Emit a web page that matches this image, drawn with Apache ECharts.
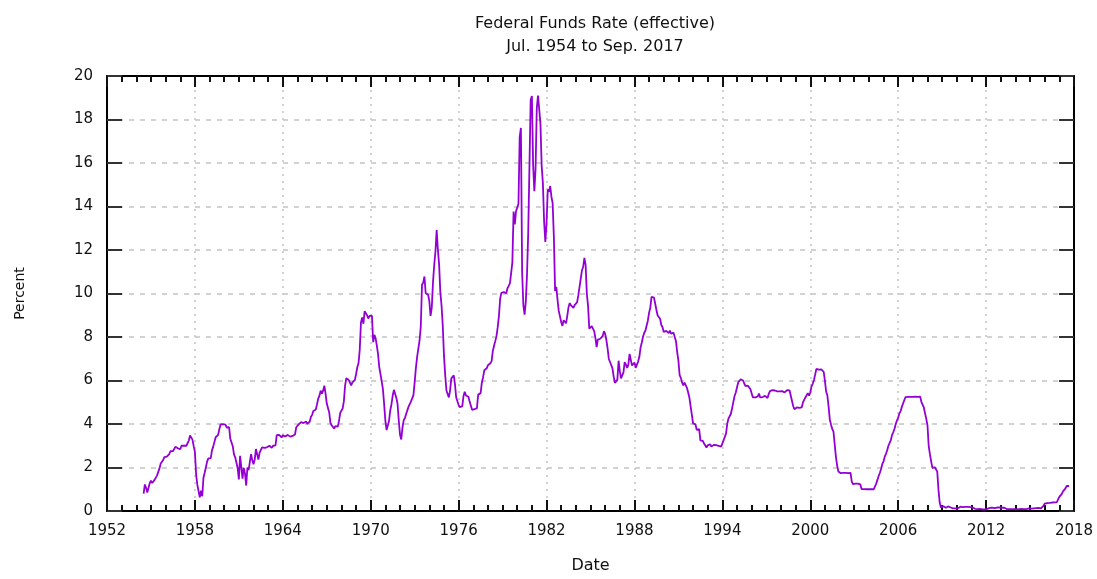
<!DOCTYPE html>
<html>
<head>
<meta charset="utf-8">
<script src="https://cdn.jsdelivr.net/npm/echarts@6/dist/echarts.min.js"></script>
<style>html,body{margin:0;padding:0;background:#fff}#c{width:1097px;height:579px}</style>
</head>
<body>
<div id="c"></div>
<script>
// Effective federal funds rate, monthly, starting Jul 1954 (percent)
const startYear = 1954;
const startMonth = 7;
const rates = [
  0.80, 1.22, 1.07, 0.85, 0.83, 1.28,
  1.39, 1.29, 1.35, 1.43, 1.43, 1.64, 1.68, 1.96, 2.18, 2.24, 2.35, 2.48,
  2.45, 2.50, 2.50, 2.62, 2.75, 2.71, 2.75, 2.73, 2.95, 2.96, 2.88, 2.94,
  2.84, 3.00, 2.96, 3.00, 3.00, 3.00, 2.99, 3.24, 3.47, 3.50, 3.28, 2.98,
  2.72, 1.67, 1.20, 1.26, 0.63, 0.93, 0.68, 1.53, 1.76, 1.80, 2.27, 2.42,
  2.48, 2.43, 2.80, 2.96, 2.90, 3.39, 3.47, 3.50, 3.76, 3.98, 4.00, 3.99,
  3.99, 3.97, 3.84, 3.92, 3.85, 3.32, 3.23, 2.98, 2.60, 2.47, 2.44, 1.98,
  1.45, 2.54, 2.02, 1.49, 1.98, 1.73, 1.17, 2.00, 1.88, 2.26, 2.61, 2.33,
  2.15, 2.37, 2.85, 2.78, 2.36, 2.68, 2.71, 2.93, 2.90, 2.90, 2.94, 2.93,
  2.92, 3.00, 2.98, 2.90, 3.00, 2.99, 3.02, 3.49, 3.48, 3.50, 3.48, 3.38,
  3.48, 3.48, 3.43, 3.47, 3.50, 3.50, 3.42, 3.50, 3.45, 3.36, 3.52, 3.85,
  3.90, 3.98, 4.04, 4.09, 4.10, 4.04, 4.09, 4.12, 4.01, 4.08, 4.10, 4.32,
  4.42, 4.60, 4.65, 4.67, 4.90, 5.17, 5.30, 5.53, 5.40, 5.53, 5.76, 5.40,
  4.94, 5.00, 4.53, 4.05, 3.94, 3.98, 3.79, 3.90, 3.99, 3.88, 4.13, 4.51,
  4.60, 4.71, 5.05, 5.76, 6.11, 6.07, 6.02, 6.03, 5.78, 5.91, 5.82, 6.02,
  6.30, 6.61, 6.79, 7.41, 8.67, 8.90, 8.61, 9.19, 9.15, 9.00, 8.85, 8.97,
  8.98, 8.98, 7.76, 8.10, 7.94, 7.60, 7.21, 6.61, 6.29, 6.20, 5.60, 4.90,
  4.14, 3.72, 3.71, 4.15, 4.63, 4.91, 5.31, 5.57, 5.55, 5.20, 4.91, 4.14,
  3.50, 3.29, 3.83, 4.17, 4.27, 4.46, 4.55, 4.80, 4.87, 5.04, 5.06, 5.33,
  5.94, 6.58, 7.09, 7.12, 7.84, 8.49, 10.40, 10.50, 10.78, 10.01, 10.03, 9.95,
  9.65, 8.97, 9.35, 10.51, 11.31, 11.93, 12.92, 12.01, 11.34, 10.06, 9.45, 8.53,
  7.13, 6.24, 5.54, 5.49, 5.22, 5.55, 6.10, 6.14, 6.24, 5.82, 5.22, 5.20,
  4.87, 4.77, 4.84, 4.82, 5.29, 5.48, 5.31, 5.29, 5.25, 5.03, 4.95, 4.65,
  4.61, 4.68, 4.69, 4.73, 5.35, 5.39, 5.42, 5.90, 6.14, 6.47, 6.51, 6.56,
  6.70, 6.78, 6.79, 6.89, 7.36, 7.60, 7.81, 8.04, 8.45, 8.96, 9.76, 10.03,
  10.07, 10.06, 10.09, 10.01, 10.24, 10.29, 10.47, 10.94, 11.43, 13.77, 13.18, 13.78,
  13.82, 14.13, 17.19, 17.61, 10.98, 9.47, 9.03, 9.61, 10.87, 12.81, 15.85, 18.90,
  19.08, 15.93, 14.70, 15.72, 18.52, 19.10, 19.04, 17.82, 15.87, 15.08, 13.31, 12.37,
  13.22, 14.78, 14.68, 14.94, 14.45, 14.15, 12.59, 10.12, 10.31, 9.71, 9.20, 8.95,
  8.68, 8.51, 8.77, 8.80, 8.63, 8.98, 9.37, 9.56, 9.45, 9.48, 9.34, 9.47,
  9.56, 9.59, 9.91, 10.29, 10.32, 11.06, 11.23, 11.64, 11.30, 9.99, 9.43, 8.38,
  8.35, 8.50, 8.58, 8.27, 7.97, 7.53, 7.88, 7.90, 7.92, 7.99, 8.05, 8.27,
  8.14, 7.86, 7.48, 6.99, 6.85, 6.92, 6.56, 6.17, 5.89, 5.85, 6.04, 6.91,
  6.43, 6.10, 6.13, 6.37, 6.85, 6.73, 6.58, 6.73, 7.22, 7.29, 6.69, 6.77,
  6.83, 6.58, 6.58, 6.87, 7.09, 7.51, 7.75, 8.01, 8.19, 8.30, 8.35, 8.76,
  9.12, 9.36, 9.85, 9.84, 9.81, 9.53, 9.24, 8.99, 9.02, 8.84, 8.55, 8.45,
  8.23, 8.24, 8.28, 8.26, 8.18, 8.29, 8.15, 8.13, 8.20, 8.11, 7.81, 7.31,
  6.91, 6.25, 6.12, 5.91, 5.78, 5.90, 5.82, 5.66, 5.45, 5.21, 4.81, 4.43,
  4.03, 4.06, 3.98, 3.73, 3.82, 3.76, 3.25, 3.30, 3.22, 3.10, 3.09, 2.92,
  3.02, 3.03, 3.07, 2.96, 3.00, 3.04, 3.06, 3.03, 3.09, 2.99, 3.02, 2.96,
  3.05, 3.25, 3.34, 3.56, 4.01, 4.25, 4.26, 4.47, 4.73, 4.76, 5.29, 5.45,
  5.53, 5.92, 5.98, 6.05, 6.01, 6.00, 5.85, 5.74, 5.80, 5.76, 5.80, 5.60,
  5.56, 5.22, 5.31, 5.22, 5.24, 5.27, 5.40, 5.22, 5.30, 5.24, 5.31, 5.29,
  5.25, 5.19, 5.39, 5.51, 5.50, 5.56, 5.52, 5.54, 5.54, 5.50, 5.52, 5.50,
  5.56, 5.51, 5.49, 5.45, 5.49, 5.56, 5.54, 5.55, 5.51, 5.07, 4.83, 4.68,
  4.63, 4.76, 4.81, 4.74, 4.74, 4.76, 4.99, 5.07, 5.22, 5.20, 5.42, 5.30,
  5.45, 5.73, 5.85, 6.02, 6.27, 6.53, 6.54, 6.50, 6.52, 6.51, 6.51, 6.40,
  5.98, 5.49, 5.31, 4.80, 4.21, 3.97, 3.77, 3.65, 3.07, 2.49, 2.09, 1.82,
  1.73, 1.74, 1.73, 1.75, 1.75, 1.75, 1.73, 1.74, 1.75, 1.75, 1.34, 1.24,
  1.24, 1.26, 1.25, 1.26, 1.26, 1.22, 1.01, 1.03, 1.01, 1.01, 1.00, 0.98,
  1.00, 1.01, 1.00, 1.00, 1.00, 1.03, 1.26, 1.43, 1.61, 1.76, 1.93, 2.16,
  2.28, 2.50, 2.63, 2.79, 3.00, 3.04, 3.26, 3.50, 3.62, 3.78, 4.00, 4.16,
  4.29, 4.49, 4.59, 4.79, 4.94, 4.99, 5.24, 5.25, 5.25, 5.25, 5.25, 5.24,
  5.25, 5.26, 5.26, 5.25, 5.25, 5.25, 5.26, 5.02, 4.94, 4.76, 4.49, 4.24,
  3.94, 2.98, 2.61, 2.28, 1.98, 2.00, 2.01, 2.00, 1.81, 0.97, 0.39, 0.16,
  0.15, 0.22, 0.18, 0.15, 0.18, 0.21, 0.16, 0.16, 0.15, 0.12, 0.12, 0.12,
  0.11, 0.13, 0.16, 0.20, 0.20, 0.18, 0.18, 0.19, 0.19, 0.19, 0.19, 0.18,
  0.17, 0.16, 0.14, 0.10, 0.09, 0.09, 0.07, 0.10, 0.08, 0.07, 0.08, 0.07,
  0.08, 0.10, 0.13, 0.14, 0.16, 0.16, 0.16, 0.13, 0.14, 0.16, 0.16, 0.16,
  0.14, 0.15, 0.14, 0.15, 0.11, 0.09, 0.09, 0.08, 0.08, 0.09, 0.08, 0.09,
  0.07, 0.07, 0.08, 0.09, 0.09, 0.10, 0.09, 0.09, 0.09, 0.09, 0.09, 0.12,
  0.11, 0.11, 0.11, 0.12, 0.12, 0.13, 0.13, 0.14, 0.14, 0.12, 0.12, 0.24,
  0.34, 0.38, 0.36, 0.37, 0.37, 0.38, 0.39, 0.40, 0.40, 0.40, 0.41, 0.54,
  0.65, 0.66, 0.79, 0.90, 0.91, 1.04, 1.15, 1.16, 1.15
];
const xTicks = [1952, 1958, 1964, 1970, 1976, 1982, 1988, 1994, 2000, 2006, 2012, 2018];
const yTicks = [0, 2, 4, 6, 8, 10, 12, 14, 16, 18, 20];
const titleText = 'Federal Funds Rate (effective)\nJul. 1954 to Sep. 2017';
const xName = 'Date';
const yName = 'Percent';

const seriesData = rates.map((v, i) => {
  const m = startMonth - 1 + i;
  return [startYear + Math.floor(m / 12) + (m % 12) / 12, v];
});

const FONT = 'DejaVu Sans';
const axisCol = '#000';
const chart = echarts.init(document.getElementById('c'), null, { renderer: 'canvas' });

function xAx(pos, main) {
  return {
    type: 'value', position: pos,
    min: xTicks[0], max: xTicks[xTicks.length - 1], interval: xTicks[1] - xTicks[0],
    name: main ? xName : '', nameLocation: 'middle', nameGap: 47,
    nameTextStyle: { fontFamily: FONT, fontSize: 16, color: '#111' },
    axisLine: { show: true, onZero: false, lineStyle: { color: axisCol, width: 2 } },
    axisTick: { show: true, inside: true, length: 11, lineStyle: { color: '#111', width: 2 } },
    minorTick: { show: true, splitNumber: 6, length: 6, lineStyle: { color: '#111', width: 2 } },
    axisLabel: { show: main, margin: 13, fontFamily: FONT, fontSize: 15, color: '#111',
      formatter: v => String(v) },
    splitLine: { show: main, lineStyle: { color: '#c4c4c4', width: 1.5, type: [2, 5] } }
  };
}
function yAx(pos, main) {
  return {
    type: 'value', position: pos,
    min: yTicks[0], max: yTicks[yTicks.length - 1], interval: yTicks[1] - yTicks[0],
    name: main ? yName : '', nameLocation: 'middle', nameGap: 80, nameRotate: 90,
    nameTextStyle: { fontFamily: FONT, fontSize: 14, color: '#111' },
    axisLine: { show: true, onZero: false, lineStyle: { color: axisCol, width: 2 } },
    axisTick: { show: true, inside: true, length: 15, lineStyle: { color: '#333', width: 2 } },
    axisLabel: { show: main, margin: 14, fontFamily: FONT, fontSize: 15, color: '#111' },
    splitLine: { show: main, lineStyle: { color: '#c4c4c4', width: 1.5, type: [5, 6] } }
  };
}

chart.setOption({
  animation: false,
  backgroundColor: '#fff',
  title: {
    text: titleText, left: 590, top: 7, textAlign: 'center',
    textStyle: { fontFamily: FONT, fontSize: 16, fontWeight: 'normal', color: '#111', lineHeight: 23 }
  },
  grid: { left: 107, right: 23, top: 76, bottom: 63, containLabel: false },
  xAxis: [xAx('bottom', true), xAx('top', false)],
  yAxis: [yAx('left', true), yAx('right', false)],
  series: [{
    type: 'line', xAxisIndex: 0, yAxisIndex: 0,
    data: seriesData, showSymbol: false, symbol: 'none',
    lineStyle: { color: '#9400d3', width: 1.8 },
    z: 5
  }]
});
</script>
</body>
</html>
